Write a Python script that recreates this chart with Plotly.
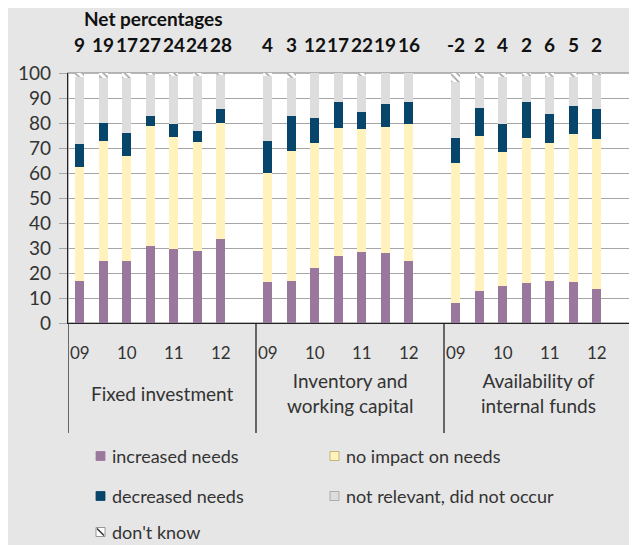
import plotly.graph_objects as go

# ---------------- data ----------------
groups = ["Fixed investment", "Inventory and<br>working capital", "Availability of<br>internal funds"]
periods = ["09", "09 H2", "10", "10 H2", "11", "11 H2", "12"]
year_labels = ["09", "", "10", "", "11", "", "12"]

increased = [17, 25, 25, 31, 29.5, 29, 33.5,
             16.5, 17, 22, 27, 28.5, 28, 25,
             8, 13, 15, 16, 17, 16.5, 13.5]
no_impact = [45.5, 48, 42, 48, 45, 43.5, 46.5,
             43.5, 52, 50, 51, 49, 50.5, 54.5,
             56, 62, 53.5, 58, 55, 59, 60]
decreased = [9, 7, 9, 4, 5, 4.5, 5.5,
             13, 14, 10, 10.5, 7, 9, 9,
             10, 11, 11, 14.5, 11.5, 11.5, 12]
not_relevant = [27, 18, 22, 16.5, 19.5, 22, 14,
                26, 15, 18, 11.5, 14.5, 12.5, 11.5,
                22.5, 12, 19, 10.5, 15, 11.5, 14]
dont_know = [1.5, 2, 2, 0.5, 1, 1, 0.5,
             1, 2, 0, 0, 1, 0, 0,
             3.5, 2, 1.5, 1, 1.5, 1.5, 0.5]
net_percentages = [9, 19, 17, 27, 24, 24, 28,
                   4, 3, 12, 17, 22, 19, 16,
                   -2, 2, 4, 2, 6, 5, 2]

# ---------------- style ----------------
FONT = "Lato"
C_INC = "#9A789E"
C_NO = "#FFF2BD"
C_DEC = "#08456B"
C_NR = "#DDDDDD"
BG = "#E6E6E6"
TXT = "#333333"
SLOTS = len(periods) + 1  # one empty slot per group

xs = [g * SLOTS + p for g in range(len(groups)) for p in range(len(periods))]

# window geometry (page body has an 8px margin)
OFF = 8
WIN_W, WIN_H = 637, 545
PL, PT, PR, PB = 68, 73, 632, 323  # plot area in window pixels
W, H = WIN_W - OFF, WIN_H - OFF
L, T = PL - OFF, PT - OFF
R, B = WIN_W - PR, WIN_H - PB
PW, PH = PR - PL, PB - PT


def px(x):
    return (x - PL) / PW


def py(y):
    return (PB - y) / PH


fig = go.Figure()
bw = 0.4
fig.add_bar(x=xs, y=increased, width=bw, marker=dict(color=C_INC, line_width=0), name="increased needs")
fig.add_bar(x=xs, y=no_impact, width=bw, marker=dict(color=C_NO, line_width=0), name="no impact on needs")
fig.add_bar(x=xs, y=decreased, width=bw, marker=dict(color=C_DEC, line_width=0), name="decreased needs")
fig.add_bar(x=xs, y=not_relevant, width=bw, marker=dict(color=C_NR, line_width=0), name="not relevant, did not occur")
fig.add_bar(x=xs, y=dont_know, width=bw,
            marker=dict(color="white", line_width=0,
                        pattern=dict(shape="\\", fgcolor="#555555", bgcolor="white", size=5, solidity=0.35)),
            name="don't know")

shapes = []
shapes.append(dict(type="rect", xref="paper", yref="paper", x0=0, x1=1, y0=0, y1=1,
                   line=dict(color="#A0A0A0", width=1.5), layer="below"))
for g in range(len(groups) + 1):
    xv = g * SLOTS - 0.5
    shapes.append(dict(type="line", xref="x", yref="paper", x0=xv, x1=xv, y0=0, y1=py(433),
                       line=dict(color="#222222", width=1.3)))

annotations = []
annotations.append(dict(text="<b>Net percentages</b>", x=px(153), y=py(18), xref="paper", yref="paper",
                        showarrow=False, font=dict(family=FONT, size=19, color="#111111"),
                        xanchor="center", yanchor="middle"))
for x, v in zip(xs, net_percentages):
    annotations.append(dict(text=f"<b>{v}</b>", x=x, y=py(45), xref="x", yref="paper",
                            showarrow=False, font=dict(family=FONT, size=19, color="#111111"),
                            xanchor="center", yanchor="middle"))
for g, name in enumerate(groups):
    annotations.append(dict(text=name, x=g * SLOTS + (SLOTS - 1) / 2, y=py(393), xref="x", yref="paper",
                            showarrow=False, font=dict(family=FONT, size=19, color=TXT),
                            xanchor="center", yanchor="middle"))

legend_items = [
    ("increased needs", C_INC, 96, 456, None),
    ("no impact on needs", C_NO, 330, 456, "#B8A860"),
    ("decreased needs", C_DEC, 96, 496, None),
    ("not relevant, did not occur", C_NR, 330, 496, "#A0A0A0"),
    ("don't know", "white", 96, 532, "#808080"),
]
sw = 9
for label, col, lx, ly, border in legend_items:
    shapes.append(dict(type="rect", xref="paper", yref="paper",
                       x0=px(lx), x1=px(lx + sw), y0=py(ly + sw / 2), y1=py(ly - sw / 2),
                       fillcolor=col, line=dict(color=border or col, width=0.8)))
    if label == "don't know":
        shapes.append(dict(type="line", xref="paper", yref="paper",
                           x0=px(lx + 1), x1=px(lx + sw - 1), y0=py(ly - sw / 2 + 1), y1=py(ly + sw / 2 - 1),
                           line=dict(color="#333333", width=1.5)))
    annotations.append(dict(text=label, x=px(lx + sw + 6), y=py(ly), xref="paper", yref="paper",
                            showarrow=False, font=dict(family=FONT, size=18, color=TXT),
                            xanchor="left", yanchor="middle", borderpad=0))

fig.update_layout(
    width=W, height=H,
    margin=dict(l=L, r=R, t=T, b=B),
    paper_bgcolor=BG, plot_bgcolor="white",
    barmode="stack",
    showlegend=False,
    font=dict(family=FONT, color=TXT),
    shapes=shapes,
    annotations=annotations,
)
fig.update_xaxes(
    range=[-0.5, len(groups) * SLOTS - 0.5],
    tickvals=xs, ticktext=year_labels * len(groups),
    tickfont=dict(family=FONT, size=17, color=TXT),
    ticks="", ticklabelstandoff=14,
    showgrid=False, zeroline=False,
    showline=True, linecolor="#222222", linewidth=1.3,
)
fig.update_yaxes(
    range=[0, 100], tickvals=list(range(0, 101, 10)),
    tickfont=dict(family=FONT, size=19, color=TXT),
    showgrid=True, gridcolor="#A6A6A6", gridwidth=1.3,
    ticks="outside", ticklen=8, tickcolor="#A6A6A6", tickwidth=1.3,
    ticklabelstandoff=4,
    zeroline=False,
    showline=True, linecolor="#222222", linewidth=1.3,
)

fig.write_html("out.html")
